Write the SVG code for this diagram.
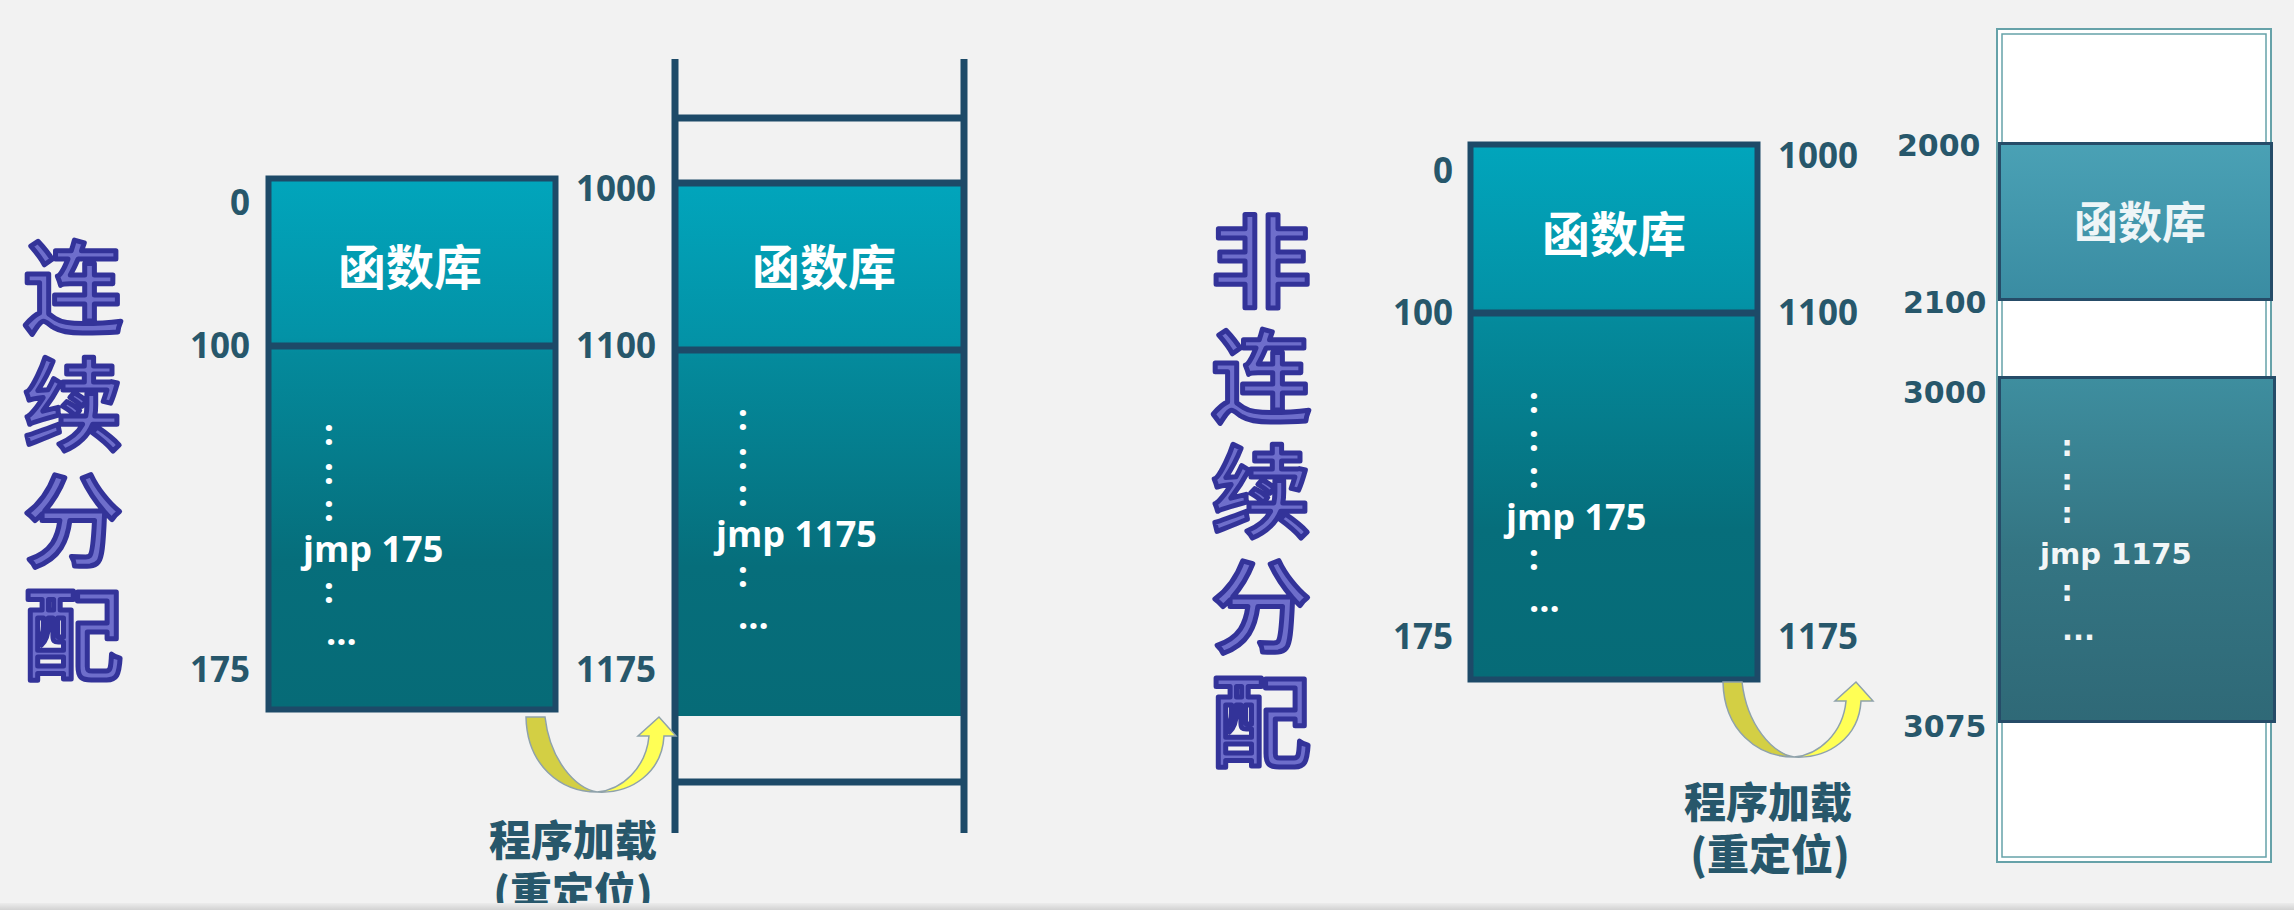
<svg xmlns="http://www.w3.org/2000/svg" width="2294" height="910" viewBox="0 0 2294 910">
<defs>
<linearGradient id="teal" x1="0" y1="0" x2="0" y2="1">
<stop offset="0" stop-color="#01a5bc"/>
<stop offset="0.3" stop-color="#0392a6"/>
<stop offset="0.33" stop-color="#048a9c"/>
<stop offset="0.72" stop-color="#066e7b"/>
<stop offset="1" stop-color="#066b77"/>
</linearGradient>
<linearGradient id="libR" x1="0" y1="0" x2="0" y2="1">
<stop offset="0" stop-color="#4aa1b5"/>
<stop offset="1" stop-color="#3a8ca2"/>
</linearGradient>
<linearGradient id="codeR" x1="0" y1="0" x2="0" y2="1">
<stop offset="0" stop-color="#3e8e9f"/>
<stop offset="0.5" stop-color="#347583"/>
<stop offset="1" stop-color="#2f6977"/>
</linearGradient>
<linearGradient id="band" x1="0" y1="0" x2="0" y2="1">
<stop offset="0" stop-color="#ececec"/>
<stop offset="1" stop-color="#d2d2d2"/>
</linearGradient>
<g id="uarrow">
<path d="M526,717 L545,717 C550,760 575,788 597,792 C560,792 527,765 526,717 Z" fill="#d3cf44" stroke="#8fa2ab" stroke-width="1.5"/>
<path d="M597,792 C622,790 646,768 649,736 L638,736 L659,717 L676,736 L664,736 C662,772 632,794 597,792 Z" fill="#ffff55" stroke="#8fa2ab" stroke-width="1.5"/>
</g>
</defs>
<style>
.lbl{font-family:"Open Sans","Liberation Sans",sans-serif;font-weight:700;font-size:35px;fill:#27576b}
.lbl2{font-family:"DejaVu Sans","Liberation Sans",sans-serif;font-weight:700;font-size:30px;fill:#27576b}
.lib{font-family:"Noto Sans CJK SC",sans-serif;font-weight:700;font-size:48px;fill:#ffffff;text-anchor:middle}
.code{font-family:"Open Sans","Liberation Sans",sans-serif;font-weight:700;font-size:36px;fill:#ffffff}
.dot{font-family:"Open Sans","Liberation Sans",sans-serif;font-weight:700;font-size:36px;fill:#ffffff;text-anchor:middle}
.code2{font-family:"DejaVu Sans","Liberation Sans",sans-serif;font-weight:700;font-size:29px;fill:#f2f6f7}
.dot2{font-family:"DejaVu Sans","Liberation Sans",sans-serif;font-weight:700;font-size:29px;fill:#f2f6f7;text-anchor:middle}
.title{font-family:"Noto Sans CJK SC",sans-serif;font-weight:500;font-size:100px;fill:#6e6ecb;stroke:#333399;stroke-width:5;stroke-linejoin:round;text-anchor:middle}
.cap{font-family:"Noto Sans CJK SC",sans-serif;font-weight:900;font-size:42px;fill:#27576b;text-anchor:middle}
.bar{stroke:#1d4a68;stroke-width:7;fill:none}
</style>
<rect x="0" y="0" width="2294" height="910" fill="#f2f2f2"/>

<g id="title-contiguous">
<text class="title" x="73" y="325">连</text>
<text class="title" x="73" y="442">续</text>
<text class="title" x="73" y="558">分</text>
<text class="title" x="73" y="672">配</text>
</g>

<g id="program-left">
<rect x="268.5" y="178.5" width="287" height="531" fill="url(#teal)" stroke="#1d4a68" stroke-width="6"/>
<line x1="268" y1="346" x2="556" y2="346" stroke="#1d4a68" stroke-width="7"/>
<text class="lib" x="410" y="285">函数库</text>
<text class="dot" x="329" y="445">:</text>
<text class="dot" x="329" y="484">:</text>
<text class="dot" x="329" y="521">:</text>
<text class="code" x="303" y="562">jmp 175</text>
<text class="dot" x="329" y="603">:</text>
<text class="code" x="326" y="645">...</text>
</g>
<g id="labels-left">
<text class="lbl" x="250" y="215" text-anchor="end">0</text>
<text class="lbl" x="250" y="358" text-anchor="end">100</text>
<text class="lbl" x="250" y="682" text-anchor="end">175</text>
</g>

<g id="memory-middle">
<rect x="675" y="183" width="289" height="533" fill="url(#teal)"/>
<line class="bar" x1="675" y1="118" x2="964" y2="118"/>
<line class="bar" x1="675" y1="183" x2="964" y2="183"/>
<line class="bar" x1="675" y1="350" x2="964" y2="350"/>
<line class="bar" x1="675" y1="782" x2="964" y2="782"/>
<line class="bar" x1="675" y1="59" x2="675" y2="833"/>
<line class="bar" x1="964" y1="59" x2="964" y2="833"/>
<text class="lib" x="824" y="285">函数库</text>
<text class="dot" x="743" y="430">:</text>
<text class="dot" x="743" y="469">:</text>
<text class="dot" x="743" y="506">:</text>
<text class="code" x="716" y="547">jmp 1175</text>
<text class="dot" x="743" y="587">:</text>
<text class="code" x="738" y="629">...</text>
</g>
<g id="labels-middle">
<text class="lbl" x="576" y="201">1000</text>
<text class="lbl" x="576" y="358">1100</text>
<text class="lbl" x="576" y="682">1175</text>
</g>

<g id="label-load-left">
<text class="cap" x="573" y="856">程序加载</text>
<text class="cap" x="573" y="908">(重定位)</text>
</g>

<g id="title-noncontiguous">
<text class="title" x="1261" y="299">非</text>
<text class="title" x="1261" y="414">连</text>
<text class="title" x="1261" y="529">续</text>
<text class="title" x="1261" y="644">分</text>
<text class="title" x="1261" y="759">配</text>
</g>

<g id="program-right">
<rect x="1470.5" y="144.5" width="287" height="535" fill="url(#teal)" stroke="#1d4a68" stroke-width="6"/>
<line x1="1470" y1="313" x2="1758" y2="313" stroke="#1d4a68" stroke-width="7"/>
<text class="lib" x="1614" y="252">函数库</text>
<text class="dot" x="1534" y="413">:</text>
<text class="dot" x="1534" y="451">:</text>
<text class="dot" x="1534" y="488">:</text>
<text class="code" x="1506" y="530">jmp 175</text>
<text class="dot" x="1534" y="570">:</text>
<text class="code" x="1529" y="612">...</text>
</g>
<g id="labels-right">
<text class="lbl" x="1453" y="183" text-anchor="end">0</text>
<text class="lbl" x="1453" y="325" text-anchor="end">100</text>
<text class="lbl" x="1453" y="649" text-anchor="end">175</text>
<text class="lbl" x="1778" y="168">1000</text>
<text class="lbl" x="1778" y="325">1100</text>
<text class="lbl" x="1778" y="649">1175</text>
</g>

<g id="label-load-right">
<text class="cap" x="1768" y="818">程序加载</text>
<text class="cap" x="1770" y="870">(重定位)</text>
</g>

<g id="memory-right">
<rect x="1997" y="29" width="274" height="833" fill="#ffffff" stroke="#66a2a9" stroke-width="2"/>
<rect x="2002" y="34" width="264" height="823" fill="none" stroke="#66a2a9" stroke-width="1.5"/>
<rect x="1999.5" y="143.5" width="272" height="156" fill="url(#libR)" stroke="#264c68" stroke-width="3"/>
<text class="lib" x="2140" y="239" style="font-size:44px;fill:#eef5f7">函数库</text>
<rect x="1999.5" y="377.5" width="275" height="344" fill="url(#codeR)" stroke="#264c68" stroke-width="3"/>
<text class="dot2" x="2067" y="456">:</text>
<text class="dot2" x="2067" y="490">:</text>
<text class="dot2" x="2067" y="523">:</text>
<text class="code2" x="2040" y="564">jmp 1175</text>
<text class="dot2" x="2067" y="601">:</text>
<text class="code2" x="2062" y="640">...</text>
</g>
<g id="labels-far-right">
<text class="lbl2" x="1897" y="156">2000</text>
<text class="lbl2" x="1903" y="313">2100</text>
<text class="lbl2" x="1903" y="403">3000</text>
<text class="lbl2" x="1903" y="737">3075</text>
</g>

<g id="connectors">
<use href="#uarrow"/>
<use href="#uarrow" transform="translate(1197,-35)"/>
</g>

<rect x="0" y="903" width="2294" height="7" fill="url(#band)"/>
</svg>
